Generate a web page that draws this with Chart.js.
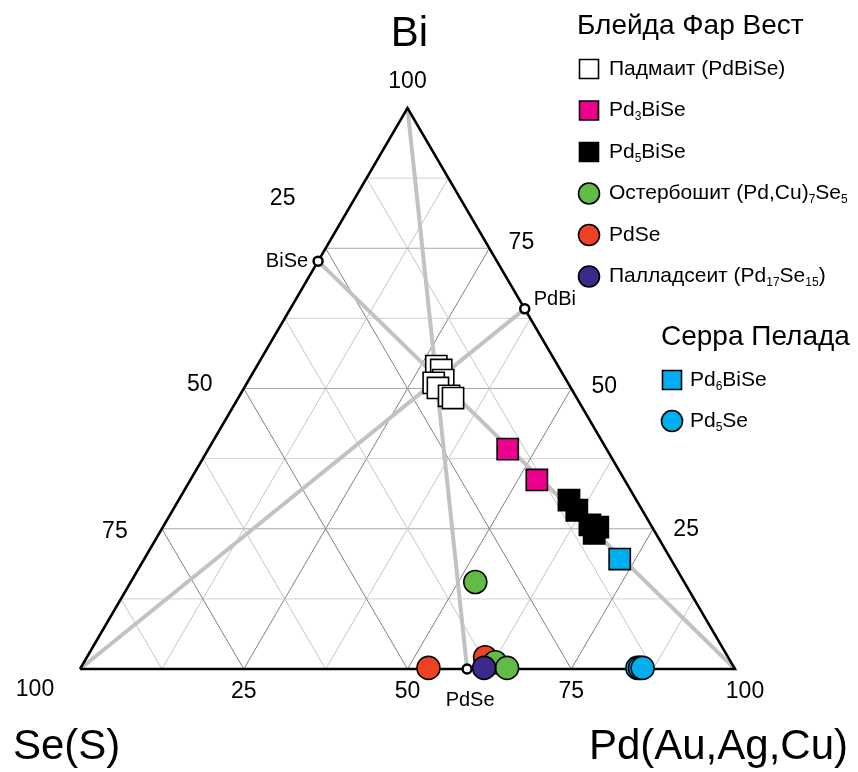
<!DOCTYPE html>
<html>
<head>
<meta charset="utf-8">
<script src="https://cdn.jsdelivr.net/npm/chart.js@4"></script>
<style>
  html, body { margin: 0; padding: 0; background: #fff; }
  #wrap { width: 858px; height: 772px; }
</style>
</head>
<body>
<div id="wrap"><canvas id="ternary" width="858" height="772"></canvas></div>
<script>
// compositions, wt%: [Bi, Pd]  (Se(S) = 100 - Bi - Pd)
const padmaite = [[54.0, 27.4], [53.3, 28.5], [51.5, 29.7], [51.0, 28.5], [50.1, 29.6], [48.7, 32.0], [48.3, 32.8]];
const pd3BiSe = [[39.2, 45.7], [33.7, 52.9]];
const pd5BiSe = [[30.1, 59.6], [28.3, 61.7], [25.7, 65.0], [25.3, 66.4], [24.2, 66.4]];
const oosterboschite = [[15.5, 52.6], [1.2, 62.8], [0.2, 65.1]];
const pdSe = [[0.2, 53.1], [2.1, 60.8]];
const palladseite = [[0.2, 61.6]];
const pd6BiSe = [[19.6, 72.6]];
const pd5Se = [[0.2, 85.0], [0.2, 85.4], [0.2, 85.8]];

// ideal phases on the edges
const phaseNames = ['BiSe', 'PdBi', 'PdSe'];
const phaseComp = [[72.7, 0], [64.2, 35.8], [0, 59.1]];
// tie lines: [from, to]
const tieLines = [[[100, 0], [0, 59.1]], [[72.7, 0], [0, 100]], [[64.2, 35.8], [0, 0]]];

const gridStep = 12.5;
const tickValues = [25, 50, 75, 100];
const axisNames = ['Bi', 'Se(S)', 'Pd(Au,Ag,Cu)'];
const groupTitles = ['Блейда Фар Вест', 'Серра Пелада'];

const FONT = "'Liberation Sans', Arial, sans-serif";

// ternary -> plain x/y for the linear scales
function tern(bi, pd) {
    return { x: pd / 100 + bi / 200, y: bi / 100 };
}
function pts(arr) {
    return arr.map(p => tern(p[0], p[1]));
}

function pointSet(label, arr, style, fill, radius, order) {
    return {
        label: label,
        data: pts(arr),
        showLine: false,
        pointStyle: style,
        pointRadius: radius,
        pointHoverRadius: radius,
        pointBackgroundColor: fill,
        pointBorderColor: '#000',
        pointBorderWidth: 1.6,
        order: order,
        clip: false
    };
}

const datasets = [];

tieLines.forEach(t => {
    datasets.push({
        type: 'line',
        data: pts(t),
        borderColor: '#c2c2c2',
        borderWidth: 4,
        pointRadius: 0,
        order: 30,
        clip: false
    });
});

// triangle outline
datasets.push({
    type: 'line',
    data: pts([[0, 0], [0, 100], [100, 0], [0, 0]]),
    borderColor: '#000',
    borderWidth: 2.5,
    pointRadius: 0,
    order: 20,
    clip: false
});

datasets.push(pointSet('Падмаит (PdBiSe)', padmaite, 'rect', '#ffffff', 15, 10));
datasets.push(pointSet('Pd_3BiSe', pd3BiSe, 'rect', '#ec008c', 15, 9));
datasets.push(pointSet('Pd_5BiSe', pd5BiSe, 'rect', '#000000', 15, 8));
datasets.push(pointSet('Pd_6BiSe', pd6BiSe, 'rect', '#00aeef', 15, 7));
datasets.push(pointSet('PdSe', pdSe, 'circle', '#ef4123', 11.5, 6));
datasets.push(pointSet('Остербошит (Pd,Cu)_7Se_5', oosterboschite, 'circle', '#62bb46', 11.5, 5));
datasets.push(pointSet('Палладсеит (Pd_{17}Se_{15})', palladseite, 'circle', '#3b2a8c', 11.5, 4));
datasets.push(pointSet('Pd_5Se', pd5Se, 'circle', '#00aeef', 11.5, 3));

// small open circles for the ideal phases
datasets.push({
    type: 'line',
    data: pts(phaseComp),
    showLine: false,
    pointRadius: 4.5,
    pointBackgroundColor: '#fff',
    pointBorderColor: '#000',
    pointBorderWidth: 2.5,
    order: 0,
    clip: false
});

// legend rows: label, style, colour
const legendA = [
    ['Падмаит (PdBiSe)', 'rect', '#ffffff'],
    ['Pd_3BiSe', 'rect', '#ec008c'],
    ['Pd_5BiSe', 'rect', '#000000'],
    ['Остербошит (Pd,Cu)_7Se_5', 'circle', '#62bb46'],
    ['PdSe', 'circle', '#ef4123'],
    ['Палладсеит (Pd_{17}Se_{15})', 'circle', '#3b2a8c']
];
const legendB = [
    ['Pd_6BiSe', 'rect', '#00aeef'],
    ['Pd_5Se', 'circle', '#00aeef']
];

function drawRich(ctx, str, x, y, size) {
    var parts = [];
    var re = /_(\{[^}]*\}|.)/g;
    var last = 0, m;
    while ((m = re.exec(str))) {
        if (m.index > last) parts.push([str.slice(last, m.index), false]);
        parts.push([m[1].replace(/[{}]/g, ''), true]);
        last = re.lastIndex;
    }
    if (last < str.length) parts.push([str.slice(last), false]);

    ctx.textAlign = 'left';
    ctx.textBaseline = 'middle';
    var cx = x;
    parts.forEach(p => {
        if (p[1]) {
            ctx.font = Math.round(size * 0.58) + 'px ' + FONT;
            ctx.fillText(p[0], cx, y + size * 0.3);
        } else {
            ctx.font = size + 'px ' + FONT;
            ctx.fillText(p[0], cx, y);
        }
        cx += ctx.measureText(p[0]).width;
    });
}

function legendMarker(ctx, style, fill, x, y) {
    ctx.fillStyle = fill;
    ctx.strokeStyle = '#000';
    ctx.lineWidth = 1.6;
    ctx.beginPath();
    if (style === 'rect') ctx.rect(x - 9.5, y - 9.5, 19, 19);
    else ctx.arc(x, y, 10.5, 0, Math.PI * 2);
    ctx.fill();
    ctx.stroke();
}

const ternaryGrid = {
    id: 'ternaryGrid',
    beforeDatasetsDraw(chart) {
        const ctx = chart.ctx;
        const sx = chart.scales.x, sy = chart.scales.y;
        const px = p => [sx.getPixelForValue(tern(p[0], p[1]).x), sy.getPixelForValue(tern(p[0], p[1]).y)];
        function seg(a, b, color) {
            const A = px(a), B = px(b);
            ctx.strokeStyle = color;
            ctx.beginPath();
            ctx.moveTo(A[0], A[1]);
            ctx.lineTo(B[0], B[1]);
            ctx.stroke();
        }
        ctx.save();
        ctx.lineWidth = 1;
        for (let v = gridStep; v < 100; v += gridStep) {
            const major = v % 25 === 0;
            seg([v, 0], [v, 100 - v], major ? '#a9a9a9' : '#d0d0d0');            // Bi const
            seg([0, v], [100 - v, v], major ? '#808080' : '#c6c6c6');            // Pd const
            seg([0, 100 - v], [100 - v, 0], major ? '#808080' : '#c6c6c6');      // Se const
        }
        ctx.restore();
    },
    afterDraw(chart) {
        const ctx = chart.ctx;
        const sx = chart.scales.x, sy = chart.scales.y;
        const px = (bi, pd) => [sx.getPixelForValue(tern(bi, pd).x), sy.getPixelForValue(tern(bi, pd).y)];
        ctx.save();
        ctx.fillStyle = '#000';
        ctx.textAlign = 'center';
        ctx.textBaseline = 'middle';

        // tick labels
        ctx.font = '23px ' + FONT;
        const rightOff = { 25: [33, 1], 50: [33, -2], 75: [32, -6], 100: [0, -26] };
        const leftOff = { 25: [-43, -50], 50: [-44, -4], 75: [-47, 3], 100: [-45, 21] };
        const bottomOff = { 25: [0, 23], 50: [0, 23], 75: [0, 23], 100: [10, 23] };
        tickValues.forEach(t => {
            let p = px(t, 100 - t);
            ctx.fillText(String(t), p[0] + rightOff[t][0], p[1] + rightOff[t][1]);
            p = px(100 - t, 0);
            ctx.fillText(String(t), p[0] + leftOff[t][0], p[1] + leftOff[t][1]);
            p = px(0, t);
            ctx.fillText(String(t), p[0] + bottomOff[t][0], p[1] + bottomOff[t][1]);
        });

        // axis titles
        ctx.font = '42px ' + FONT;
        let p = px(100, 0);
        ctx.fillText(axisNames[0], p[0] + 2, p[1] - 74);
        ctx.textAlign = 'left';
        p = px(0, 0);
        ctx.fillText(axisNames[1], p[0] - 67, p[1] + 78);
        ctx.textAlign = 'right';
        p = px(0, 100);
        ctx.fillText(axisNames[2], p[0] + 113, p[1] + 78);

        // phase labels
        ctx.font = '20px ' + FONT;
        p = px(phaseComp[0][0], phaseComp[0][1]);
        ctx.textAlign = 'right';
        ctx.fillText(phaseNames[0], p[0] - 10, p[1]);
        p = px(phaseComp[1][0], phaseComp[1][1]);
        ctx.textAlign = 'left';
        ctx.fillText(phaseNames[1], p[0] + 9, p[1] - 9);
        p = px(phaseComp[2][0], phaseComp[2][1]);
        ctx.textAlign = 'center';
        ctx.fillText(phaseNames[2], p[0] + 3, p[1] + 31);

        // legend
        ctx.textAlign = 'left';
        ctx.font = '28px ' + FONT;
        ctx.fillText(groupTitles[0], 577, 26);
        legendA.forEach((row, i) => {
            const y = 69 + i * 41.5;
            legendMarker(ctx, row[1], row[2], 589, y);
            ctx.fillStyle = '#000';
            drawRich(ctx, row[0], 609, y, 21);
        });
        ctx.font = '28px ' + FONT;
        ctx.fillText(groupTitles[1], 661, 337);
        legendB.forEach((row, i) => {
            const y = 380 + i * 41;
            legendMarker(ctx, row[1], row[2], 672, y);
            ctx.fillStyle = '#000';
            drawRich(ctx, row[0], 690, y, 21);
        });
        ctx.restore();
    }
};

new Chart(document.getElementById('ternary'), {
    type: 'scatter',
    data: { datasets: datasets },
    options: {
        responsive: false,
        animation: false,
        events: [],
        layout: { padding: { left: 80, right: 123, top: 108, bottom: 103 } },
        scales: {
            x: { type: 'linear', min: 0, max: 1, display: false },
            y: { type: 'linear', min: 0, max: 1, display: false }
        },
        plugins: {
            legend: { display: false },
            tooltip: { enabled: false }
        }
    },
    plugins: [ternaryGrid]
});
</script>
</body>
</html>
